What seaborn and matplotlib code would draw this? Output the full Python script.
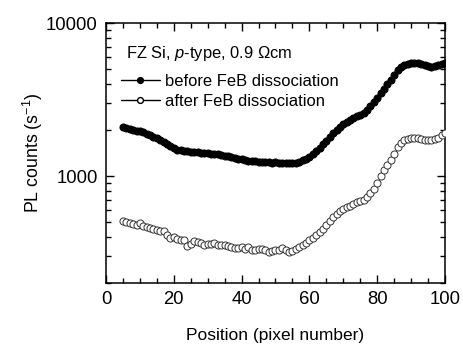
import numpy as np
import pandas as pd
import seaborn as sns
import matplotlib
matplotlib.use("Agg")
import matplotlib.pyplot as plt
from matplotlib.lines import Line2D
from matplotlib.ticker import LogLocator, MultipleLocator, FixedLocator

position = list(range(5, 101))

before = [2090, 2060, 2040, 2010, 1980, 1960, 1930, 1890, 1850, 1810,
          1760, 1720, 1670, 1620, 1570, 1530, 1490, 1470, 1460, 1450,
          1440, 1440, 1430, 1420, 1410, 1410, 1400, 1400, 1390, 1380,
          1360, 1350, 1330, 1310, 1300, 1290, 1270, 1260, 1250, 1250,
          1240, 1240, 1230, 1230, 1220, 1230, 1220, 1220, 1210, 1220,
          1210, 1220, 1240, 1270, 1300, 1340, 1390, 1450, 1520, 1620,
          1700, 1800, 1900, 2000, 2100, 2180, 2260, 2330, 2390, 2450,
          2520, 2600, 2700, 2850, 3050, 3250, 3480, 3720, 3980, 4240,
          4580, 4920, 5150, 5300, 5400, 5450, 5460, 5440, 5400, 5320,
          5240, 5180, 5200, 5300, 5400, 5450]

after = [508, 500, 495, 488, 478, 490, 472, 462, 456, 448,
         445, 440, 437, 410, 395, 398, 385, 380, 382, 350,
         360, 375, 372, 365, 352, 358, 362, 365, 355, 354,
         352, 350, 345, 340, 337, 342, 335, 345, 330, 328,
         335, 336, 330, 318, 322, 328, 330, 340, 328, 318,
         325, 335, 342, 352, 365, 380, 392, 410, 428, 450,
         478, 510, 540, 565, 590, 610, 628, 640, 655, 672,
         685, 700, 730, 770, 820, 900, 1000, 1090, 1180, 1270,
         1400, 1540, 1640, 1710, 1750, 1770, 1770, 1760, 1740, 1720,
         1710, 1720, 1740, 1780, 1860, 1920]

label_before = "before FeB dissociation"
label_after = "after FeB dissociation"
sample_text = "FZ Si, $p$-type, 0.9 \u03a9cm"
xlabel = "Position (pixel number)"
ylabel = "PL counts (s$^{-1}$)"
xticks = [0, 20, 40, 60, 80, 100]
yticks = [1000, 10000]

sns.set_style("ticks")
plt.rcParams['font.family'] = ['Liberation Sans', 'DejaVu Sans']
plt.rcParams['mathtext.fontset'] = 'custom'
plt.rcParams['mathtext.rm'] = 'Liberation Sans'
plt.rcParams['mathtext.it'] = 'Liberation Sans:italic'
for k in ['text.color', 'axes.labelcolor', 'xtick.color', 'ytick.color', 'axes.edgecolor']:
    plt.rcParams[k] = 'black'

df = pd.DataFrame({"pos": position * 2,
                   "counts": before + after,
                   "series": [label_before] * len(before) + [label_after] * len(after)})

fig = plt.figure(figsize=(4.64, 3.47), dpi=100)
ax = fig.add_axes([106/464, 1 - 283/347, (445 - 106)/464, (283 - 23)/347])

sns.scatterplot(data=df[df.series == label_before], x="pos", y="counts", ax=ax,
                marker="o", s=26, color="black", edgecolor="black", linewidth=0.7,
                legend=False, zorder=3)
sns.scatterplot(data=df[df.series == label_after], x="pos", y="counts", ax=ax,
                marker="o", s=26, facecolor="white", edgecolor="#333333", linewidth=0.7,
                legend=False, zorder=3)

ax.set_yscale("log")
ax.set_xlim(0, 100)
ax.set_ylim(200, 10000)
ax.xaxis.set_major_locator(FixedLocator(xticks))
ax.xaxis.set_minor_locator(MultipleLocator(5))
ax.yaxis.set_major_locator(FixedLocator(yticks))
ax.yaxis.set_minor_locator(LogLocator(base=10, subs=np.arange(2, 10)))
ax.set_yticklabels([str(t) for t in yticks])
ax.yaxis.set_minor_formatter(matplotlib.ticker.NullFormatter())
ax.tick_params(which="both", direction="in", top=True, right=True, labelsize=13.3, color="black", pad=6)
ax.tick_params(which="major", length=6, width=1)
ax.tick_params(which="minor", length=3.5, width=1)
for s in ax.spines.values():
    s.set_visible(True)
    s.set_linewidth(1.1)
    s.set_color("black")

ax.set_xlabel(xlabel, fontsize=12.5, labelpad=14)
ax.set_ylabel(ylabel, fontsize=12.8, labelpad=1)

ax.text(0.06, 0.884, sample_text, transform=ax.transAxes, fontsize=11.9, va="center", ha="left")
handles = [Line2D([], [], color="black", marker="o", markersize=4.2, markerfacecolor="black", lw=1),
           Line2D([], [], color="black", marker="o", markersize=4.2, markerfacecolor="white", lw=1)]
ax.legend(handles, [label_before, label_after], loc="upper left", bbox_to_anchor=(0.044, 0.803),
          frameon=False, fontsize=11.9, handlelength=2.35, handletextpad=0.3, labelspacing=0.3,
          borderaxespad=0, borderpad=0)

fig.savefig("out.png", dpi=100)
